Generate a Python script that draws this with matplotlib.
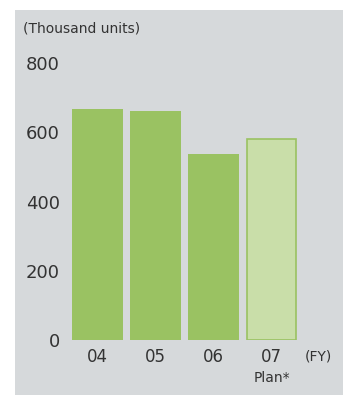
import matplotlib
matplotlib.use("Agg")
import matplotlib.pyplot as plt
from matplotlib.patches import Rectangle

plt.rcParams['font.family'] = ['DejaVu Sans']

# production volume by fiscal year (thousand units)
years = ["04", "05", "06", "07"]
volumes = [667, 661, 537, 580]
is_plan = [False, False, False, True]
y_ticks = [0, 200, 400, 600, 800]

W, H = 343, 397
fig = plt.figure(figsize=(W / 100, H / 100), dpi=100)
fig.patch.set_facecolor("white")

# gray panel behind the chart
fig.patches.append(Rectangle((15 / W, 2 / H), 1 - 15 / W, 385 / H,
                             transform=fig.transFigure, facecolor="#d6d9db",
                             edgecolor="none", zorder=0))

ax = fig.add_axes([65.6 / W, (H - 340) / H, (303.4 - 65.6) / W, (340 - 63) / H])
ax.set_facecolor("none")
ax.set_zorder(2)

green = "#9ac262"
light = "#c9dea9"
for i, (v, p) in enumerate(zip(volumes, is_plan)):
    if p:
        ax.bar(i, v, width=0.86, color=light, edgecolor=green, linewidth=1.2)
    else:
        ax.bar(i, v, width=0.88, color=green, edgecolor="none")

ax.set_xlim(-0.55, 3.55)
ax.set_ylim(0, 800)
ax.set_yticks(y_ticks)
ax.set_yticklabels([str(t) for t in y_ticks], fontsize=13, color="#333333")
ax.set_xticks(range(len(years)))
ax.set_xticklabels(years, fontsize=12, color="#333333")
ax.tick_params(axis="y", length=0, pad=4)
ax.tick_params(axis="x", length=0, pad=6)
for s in ax.spines.values():
    s.set_visible(False)

fig.text(23 / W, 1 - 28 / H, "(Thousand units)", fontsize=10, color="#333333",
         ha="left", va="center", zorder=3)
fig.text(305 / W, 1 - 357 / H, "(FY)", fontsize=10, color="#333333",
         ha="left", va="center", zorder=3)
fig.text(271.5 / W, 1 - 378 / H, "Plan*", fontsize=10, color="#333333",
         ha="center", va="center", zorder=3)

fig.savefig("out.png", dpi=100)
